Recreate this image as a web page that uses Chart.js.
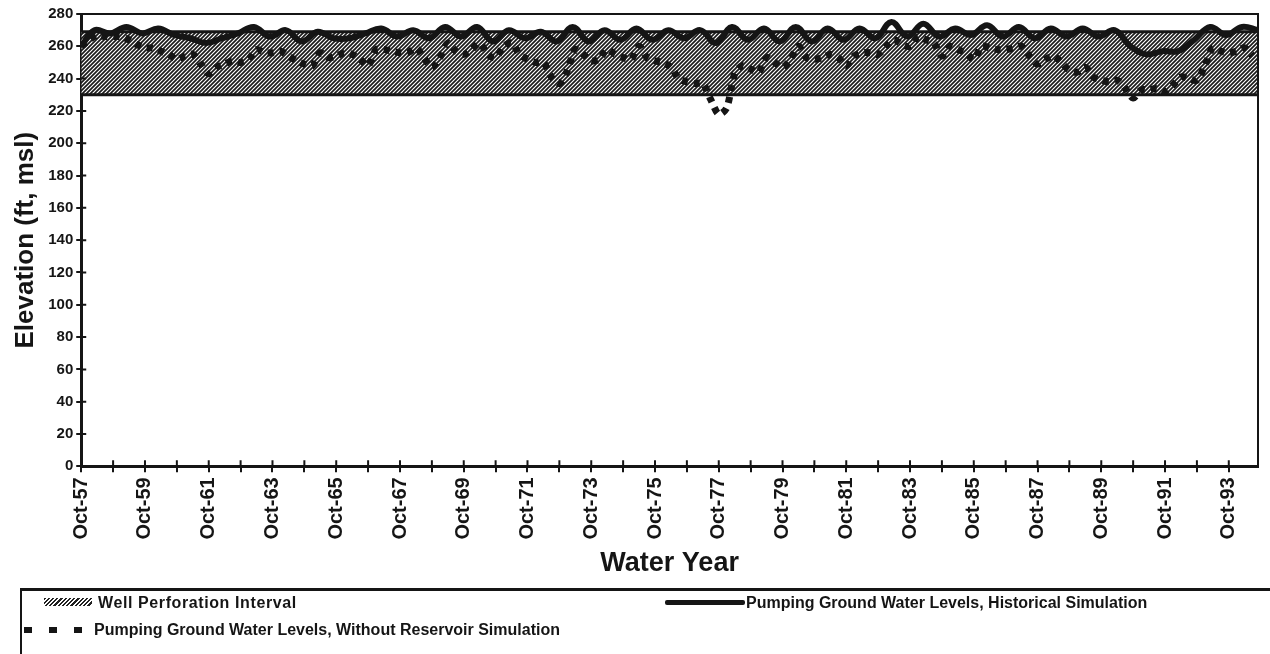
<!DOCTYPE html>
<html>
<head>
<meta charset="utf-8">
<script src="https://cdn.jsdelivr.net/npm/chart.js@4.4.0/dist/chart.umd.min.js"></script>
<style>
  html, body { margin: 0; padding: 0; background: #fff; }
  #wrap { position: relative; width: 1270px; height: 654px; overflow: hidden; }
  #legend { position: absolute; left: 20px; top: 588px; width: 1260px; height: 80px;
            border-top: 3px solid #151515; border-left: 2px solid #151515;
            font-family: "Liberation Sans", Arial, sans-serif; font-weight: bold; font-size: 16px; color: #151515; }
  #legend .item { position: absolute; white-space: nowrap; }
  .sw-hatch { position: absolute; width: 48px; height: 8px;
              background: repeating-linear-gradient(135deg, #222 0 1.6px, #fff 1.6px 3px); }
  .sw-line { position: absolute; width: 80px; height: 5px; background: #151515; border-radius: 2px; }
  .sw-dash { position: absolute; width: 8px; height: 6px; background: #151515; }
</style>
</head>
<body>
<div id="wrap">
  <canvas id="chart" width="1270" height="654"></canvas>
  <div id="legend">
    <div class="sw-hatch" style="left:22px; top:7px;"></div>
    <div class="item" style="left:76px; top:3px; letter-spacing:0.6px;">Well Perforation Interval</div>
    <div class="sw-line" style="left:643px; top:9px;"></div>
    <div class="item" style="left:724px; top:3px;">Pumping Ground Water Levels, Historical Simulation</div>
    <div class="sw-dash" style="left:2px; top:36px;"></div>
    <div class="sw-dash" style="left:27px; top:36px;"></div>
    <div class="sw-dash" style="left:52px; top:36px;"></div>
    <div class="item" style="left:72px; top:30px;">Pumping Ground Water Levels, Without Reservoir Simulation</div>
  </div>
</div>
<script>
// months counted from Oct-57
var firstYear = 57;
var xMax = 443;

// well perforation interval (ft, msl)
var perfTop = 269;
var perfBottom = 230;

// historical simulation: spring high and late-summer low of each water year
var histStart = 260;
var histPeak = [270,272,271,265,265,272,270,269,265,271,270,272,272,270,269,272,270,271,270,270,
                272,271,272,271,271,275,274,271,273,272,271,271,270,255,257,272,272];
var histLow  = [268,268,267,262,268,266,263,265,268,266,265,266,263,265,263,263,264,264,265,262,
                264,263,263,264,265,266,266,267,266,265,266,266,260,257,264,267,270];

// without reservoir: quarterly (Oct, Jan, Apr, Jul)
var woLevels = [
  260,264,267,266, 266,266,264,261, 259,259,257,255, 252,254,255,249,
  243,247,249,251, 250,252,258,256, 256,257,254,251, 249,248,256,253,
  254,256,255,252, 248,258,258,257, 256,256,259,253, 247,253,262,257,
  255,258,262,255, 253,260,262,255, 252,250,250,241, 237,245,258,255,
  251,252,258,255, 253,252,260,253, 251,250,247,240, 238,237,237,227,
  218,222,243,248, 246,244,253,250, 247,252,260,253, 252,253,255,253,
  248,254,256,256, 255,260,264,261, 260,266,264,262, 254,260,258,256,
  252,260,259,258, 258,259,260,254, 249,252,254,250, 245,244,247,241,
  239,238,239,234, 228,233,233,234, 232,236,241,240, 239,248,259,257,
  256,257,259,254
];

var yMin = 0, yMax = 280, yStep = 20;

var hist = [{x: 0, y: histStart}];
for (var k = 0; k < histPeak.length; k++) {
  hist.push({x: k*12 + 5, y: histPeak[k]});
  hist.push({x: k*12 + 11, y: histLow[k]});
}
var wo = [];
for (var i = 0; i < woLevels.length; i++) {
  wo.push({x: i*3, y: woLevels[i]});
}

function hatch() {
  var c = document.createElement('canvas');
  c.width = 4; c.height = 4;
  var g = c.getContext('2d');
  g.fillStyle = '#fff'; g.fillRect(0, 0, 4, 4);
  g.strokeStyle = '#1a1a1a'; g.lineWidth = 1.7;
  g.beginPath();
  g.moveTo(0, 4); g.lineTo(4, 0);
  g.moveTo(-1, 1); g.lineTo(1, -1);
  g.moveTo(3, 5); g.lineTo(5, 3);
  g.stroke();
  return g.createPattern(c, 'repeat');
}

var ink = '#151515';

// top/right border and the inside half of the tick marks
var framePlugin = {
  id: 'frame',
  afterDraw: function(chart) {
    var a = chart.chartArea, ctx = chart.ctx;
    ctx.save();
    ctx.strokeStyle = ink;
    ctx.lineWidth = 2;
    ctx.beginPath();
    ctx.moveTo(a.left, a.top); ctx.lineTo(a.right, a.top); ctx.lineTo(a.right, a.bottom);
    chart.scales.y.ticks.forEach(function(t) {
      var y = chart.scales.y.getPixelForValue(t.value);
      ctx.moveTo(a.left, y); ctx.lineTo(a.left + 5, y);
    });
    chart.scales.x.ticks.forEach(function(t) {
      var x = chart.scales.x.getPixelForValue(t.value);
      ctx.moveTo(x, a.bottom); ctx.lineTo(x, a.bottom - 6);
    });
    ctx.stroke();
    ctx.restore();
  }
};

Chart.defaults.font.family = '"Liberation Sans", Arial, sans-serif';
Chart.defaults.color = ink;

new Chart(document.getElementById('chart'), {
  type: 'line',
  data: {
    datasets: [
      { label: 'Pumping Ground Water Levels, Historical Simulation', data: hist,
        borderColor: ink, borderWidth: 6, tension: 0.4, pointRadius: 0, fill: false },
      { label: 'Pumping Ground Water Levels, Without Reservoir Simulation', data: wo,
        borderColor: ink, borderWidth: 7, borderDash: [6, 6], tension: 0.3, pointRadius: 0, fill: false },
      { label: 'perf bottom', data: [{x: 0, y: perfBottom}, {x: xMax, y: perfBottom}],
        borderColor: ink, borderWidth: 3, pointRadius: 0, fill: false },
      { label: 'Well Perforation Interval', data: [{x: 0, y: perfTop}, {x: xMax, y: perfTop}],
        borderColor: ink, borderWidth: 3, pointRadius: 0, fill: '-1', backgroundColor: hatch() }
    ]
  },
  options: {
    responsive: false,
    animation: false,
    layout: { padding: { top: 14, right: 12, left: 6, bottom: 74 } },
    plugins: { legend: { display: false }, tooltip: { enabled: false } },
    scales: {
      x: {
        type: 'linear', min: 0, max: xMax,
        afterBuildTicks: function(s) {
          s.ticks = s.ticks.filter(function(t) { return t.value % 12 === 0; });
        },
        ticks: {
          stepSize: 12, autoSkip: false, minRotation: 90, maxRotation: 90, padding: 5,
          font: { size: 20, weight: 'bold' },
          callback: function(v) {
            var n = v / 12;
            return n % 2 === 0 ? 'Oct-' + (firstYear + n) : '';
          }
        },
        grid: { drawOnChartArea: false, color: ink, lineWidth: 2, tickLength: 6 },
        border: { color: ink, width: 3 },
        title: { display: true, text: 'Water Year', font: { size: 27, weight: 'bold' }, padding: { top: 3, bottom: 0 } }
      },
      y: {
        min: yMin, max: yMax,
        ticks: { stepSize: yStep, font: { size: 15, weight: 'bold' }, padding: 3 },
        grid: { drawOnChartArea: false, color: ink, lineWidth: 2, tickLength: 5 },
        border: { color: ink, width: 3 },
        title: { display: true, text: 'Elevation (ft, msl)', font: { size: 26, weight: 'bold' }, padding: { bottom: 4 } }
      }
    }
  },
  plugins: [framePlugin]
});
</script>
</body>
</html>
